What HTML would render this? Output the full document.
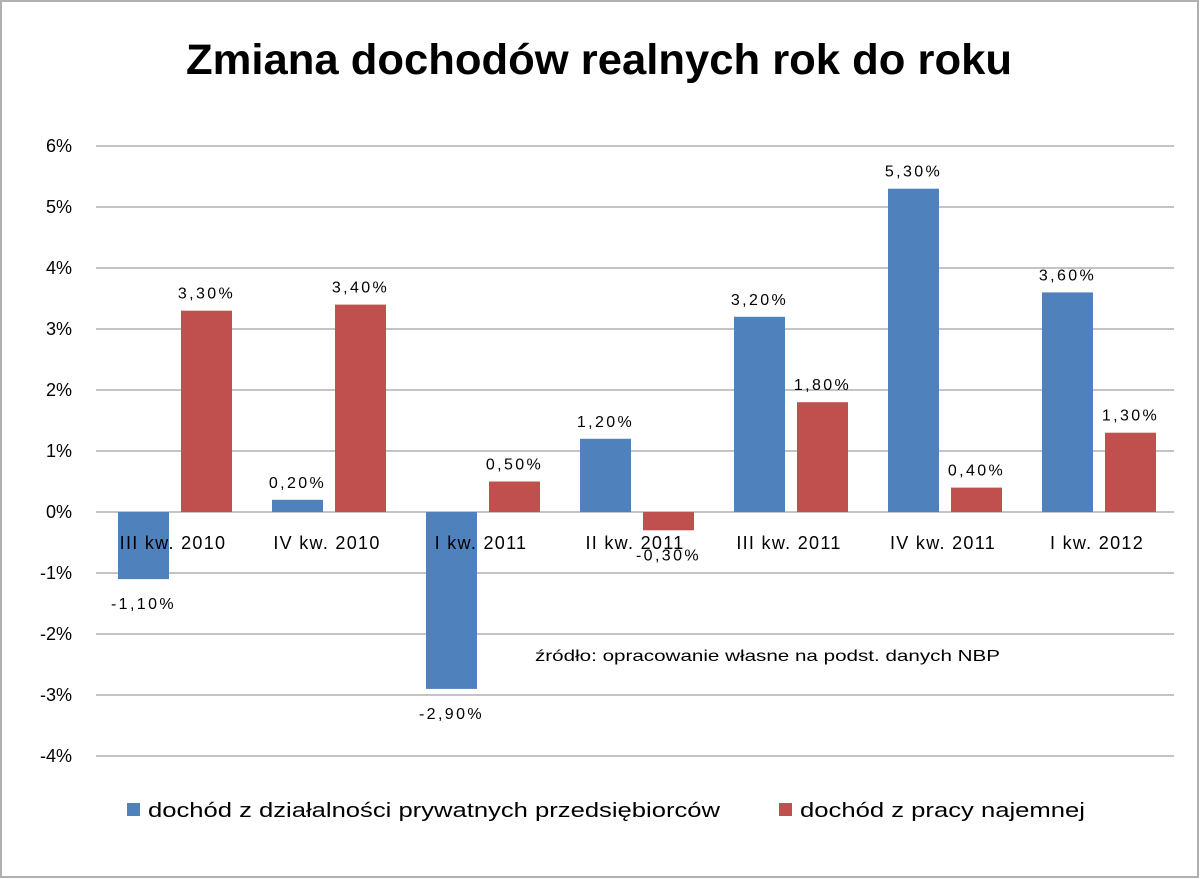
<!DOCTYPE html>
<html><head><meta charset="utf-8"><style>
body{margin:0;background:#fff;}
svg{display:block;font-family:"Liberation Sans","DejaVu Sans",sans-serif;}
</style></head><body>
<svg id="chart" width="1200" height="879" viewBox="0 0 1200 879">
<rect x="1" y="1" width="1197" height="876" fill="#fff" stroke="#b0b0b0" stroke-width="2"/>
<text x="186" y="74" textLength="826" lengthAdjust="spacingAndGlyphs" font-size="43" font-weight="bold" fill="#000">Zmiana dochodów realnych rok do roku</text>
<g id="grid"></g><g id="bars"></g><g id="labels"></g>
<text x="535" y="661" textLength="465" lengthAdjust="spacingAndGlyphs" font-size="16" fill="#000">źródło: opracowanie własne na podst. danych NBP</text>
<rect x="127" y="803" width="13" height="13" fill="#4f81bd"/>
<text x="148" y="817" textLength="572" lengthAdjust="spacingAndGlyphs" font-size="20" fill="#000">dochód z działalności prywatnych przedsiębiorców</text>
<rect x="779" y="803" width="13" height="13" fill="#c0504d"/>
<text x="800" y="817" textLength="285" lengthAdjust="spacingAndGlyphs" font-size="20" fill="#000">dochód z pracy najemnej</text>
</svg>
<script>
const categories=["III kw. 2010","IV kw. 2010","I kw. 2011","II kw. 2011","III kw. 2011","IV kw. 2011","I kw. 2012"];
const privateVals=[-1.1,0.2,-2.9,1.2,3.2,5.3,3.6];
const wageVals=[3.3,3.4,0.5,-0.3,1.8,0.4,1.3];
const yTicks=[6,5,4,3,2,1,0,-1,-2,-3,-4];
const NS="http://www.w3.org/2000/svg";
const left=96,right=1174,step=(right-left)/categories.length;
function y(v){return 512-v*61;}
function mk(t,a,p){const e=document.createElementNS(NS,t);for(const k in a)e.setAttribute(k,a[k]);p.appendChild(e);return e;}
const G=document.getElementById('grid'),B=document.getElementById('bars'),L=document.getElementById('labels');
yTicks.forEach(v=>{
 const l=mk('line',{x1:left,x2:right,y1:y(v),y2:y(v),stroke:'#888','stroke-width':1},G);
 
 
 const t=mk('text',{x:72,y:y(v)+6,'text-anchor':'end','font-size':18,fill:'#000'},G);
 t.textContent=v+'%';
 
 
});
function fmt(v){return v.toFixed(2).replace('.',',')+'%';}
function bar(x,v,col,name){
 const r=mk('rect',{x:x,y:Math.min(y(v),y(0)),width:51,height:Math.abs(y(v)-y(0)),fill:col},B);
 
 
 const ty=v>=0?y(v)-12:y(v)+30;
 const t=mk('text',{x:x+25.5,y:ty,'text-anchor':'middle','font-size':16,'letter-spacing':2.4,fill:'#000'},L);
 t.textContent=fmt(v);
 
 
}
categories.forEach((c,i)=>{
 const gx=left+i*step;
 bar(gx+22,privateVals[i],'#4f81bd','bar-private-'+i);
 bar(gx+85,wageVals[i],'#c0504d','bar-wages-'+i);
 const t=mk('text',{x:gx+step/2,y:549,'text-anchor':'middle','font-size':18,'letter-spacing':1.3,fill:'#000'},L);
 t.textContent=c;
 
 
});
</script>
</body></html>
